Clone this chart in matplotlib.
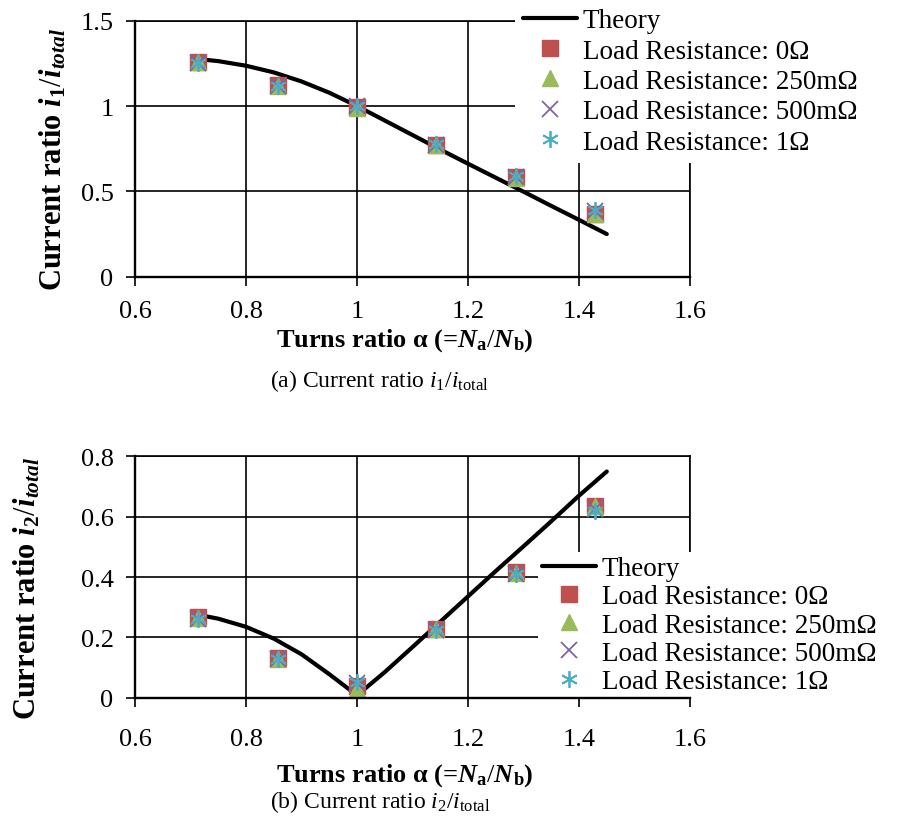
import matplotlib.pyplot as plt
from matplotlib.ticker import FormatStrFormatter

plt.rcParams['font.family'] = ['Liberation Serif', 'DejaVu Serif']
plt.rcParams['mathtext.fontset'] = 'custom'
plt.rcParams['mathtext.rm'] = 'Liberation Serif'
plt.rcParams['mathtext.it'] = 'Liberation Serif:italic'
plt.rcParams['mathtext.bf'] = 'Liberation Serif:bold'
plt.rcParams['mathtext.bfit'] = 'Liberation Serif:italic:bold'

# measured turns ratios
alpha = [0.714, 0.857, 1.0, 1.143, 1.286, 1.429]

# (a) i1 / itotal
i1_0 = [1.256, 1.123, 0.995, 0.772, 0.582, 0.367]
i1_250m = [1.26, 1.12, 0.99, 0.77, 0.58, 0.37]
i1_500m = [1.25, 1.12, 1.0, 0.77, 0.585, 0.385]
i1_1 = [1.25, 1.12, 1.0, 0.775, 0.59, 0.39]

# (b) i2 / itotal
i2_0 = [0.267, 0.131, 0.038, 0.228, 0.416, 0.637]
i2_250m = [0.265, 0.13, 0.03, 0.228, 0.415, 0.635]
i2_500m = [0.262, 0.13, 0.05, 0.225, 0.41, 0.625]
i2_1 = [0.26, 0.13, 0.053, 0.225, 0.41, 0.62]

# theory curves
theory_alpha = [0.714, 0.75, 0.8, 0.85, 0.9, 0.95, 1.0, 1.05, 1.1, 1.15,
                1.2, 1.25, 1.3, 1.35, 1.4, 1.45]
theory_i1 = [1.275, 1.263, 1.236, 1.197, 1.144, 1.078, 1.0, 0.915, 0.83, 0.745,
             0.662, 0.58, 0.498, 0.415, 0.333, 0.25]
theory_i2 = [0.275, 0.262, 0.235, 0.196, 0.144, 0.078, 0.008, 0.085, 0.168, 0.252,
             0.336, 0.42, 0.502, 0.585, 0.67, 0.75]

labels = ['Theory', 'Load Resistance: 0Ω', 'Load Resistance: 250mΩ',
          'Load Resistance: 500mΩ', 'Load Resistance: 1Ω']

x_ticks = [0.6, 0.8, 1.0, 1.2, 1.4, 1.6]


def draw_panel(ax, theory, series, ymax, ystep, legend_xy, xpad, bpad, lspace):
    ax.plot(theory_alpha, theory, color='black', lw=3, solid_capstyle='round',
            label=labels[0], zorder=3)
    ax.plot(alpha, series[0], ls='none', marker='s', ms=12, color='#C0504D',
            mec='#C0504D', label=labels[1], zorder=4)
    ax.plot(alpha, series[1], ls='none', marker='^', ms=12, color='#9BBB59',
            mec='#9BBB59', label=labels[2], zorder=4)
    ax.plot(alpha, series[2], ls='none', marker='x', ms=11, mew=1.3,
            color='#8064A2', label=labels[3], zorder=4)
    ax.plot(alpha, series[3], ls='none', marker=(6, 2, 0), ms=12, mew=1.3,
            color='#4BACC6', label=labels[4], zorder=4)

    ax.set_xlim(0.6, 1.6)
    ax.set_ylim(0, ymax)
    ax.set_xticks(x_ticks)
    yt = [round(ystep * k, 2) for k in range(int(round(ymax / ystep)) + 1)]
    ax.set_yticks(yt)
    ax.xaxis.set_major_formatter(FormatStrFormatter('%g'))
    ax.yaxis.set_major_formatter(FormatStrFormatter('%g'))
    ax.grid(True, color='black', lw=1.2)
    ax.set_axisbelow(True)
    for s in ['left', 'bottom']:
        ax.spines[s].set_linewidth(1.7)
    for s in ['top', 'right']:
        ax.spines[s].set_linewidth(1.2)
    # the zero line stays visible under the legend box
    ax.spines['bottom'].set_zorder(6)
    ax.tick_params(axis='both', direction='out', length=6.5, width=1.2,
                   labelsize=19)
    ax.tick_params(axis='y', pad=9)
    ax.tick_params(axis='x', pad=xpad)

    ax.legend(loc='upper left', bbox_to_anchor=legend_xy,
              bbox_transform=fig.transFigure, frameon=True, facecolor='white',
              edgecolor='none', framealpha=1, fancybox=False, fontsize=19.5,
              handlelength=2.0, handletextpad=0.2, borderpad=bpad,
              labelspacing=lspace, borderaxespad=0)


fig = plt.figure(figsize=(9.02, 8.37), dpi=100)
ax1 = fig.add_axes([0.1497, 0.6682, 0.6153, 0.3059])
ax2 = fig.add_axes([0.1497, 0.1652, 0.6153, 0.2883])

draw_panel(ax1, theory_i1, [i1_0, i1_250m, i1_500m, i1_1], 1.5, 0.5,
           (515 / 902, 1 - 1 / 837), 10, 0.3, 0.2)
draw_panel(ax2, theory_i2, [i2_0, i2_250m, i2_500m, i2_1], 0.8, 0.2,
           (538 / 902, 1 - 553 / 837), 15, 0.15, 0.12)

# axis labels and captions
xlab = r'Turns ratio α (=$\mathbfit{N}_{\mathbf{a}}/\mathbfit{N}_{\mathbf{b}}$)'
fig.text(405 / 902, 1 - 341 / 837, xlab, ha='center', va='center',
         fontsize=19, fontweight='bold')
fig.text(405 / 902, 1 - 776 / 837, xlab, ha='center', va='center',
         fontsize=19, fontweight='bold')

fig.text(53 / 902, 1 - 159 / 837,
         r'Current ratio $\mathbfit{i}_{\mathbf{1}}/\mathbfit{i}_{\mathbfit{total}}$',
         ha='center', va='center', rotation=90, fontsize=22, fontweight='bold')
fig.text(27 / 902, 1 - 588 / 837,
         r'Current ratio $\mathbfit{i}_{\mathbf{2}}/\mathbfit{i}_{\mathbfit{total}}$',
         ha='center', va='center', rotation=90, fontsize=22, fontweight='bold')

fig.text(380 / 902, 1 - 381 / 837,
         r'(a) Current ratio $\mathit{i}_{1}/\mathit{i}_{\mathrm{total}}$',
         ha='center', va='center', fontsize=17)
fig.text(380 / 902, 1 - 802 / 837,
         r'(b) Current ratio $\mathit{i}_{2}/\mathit{i}_{\mathrm{total}}$',
         ha='center', va='center', fontsize=17)

fig.savefig('out.png', dpi=100)
